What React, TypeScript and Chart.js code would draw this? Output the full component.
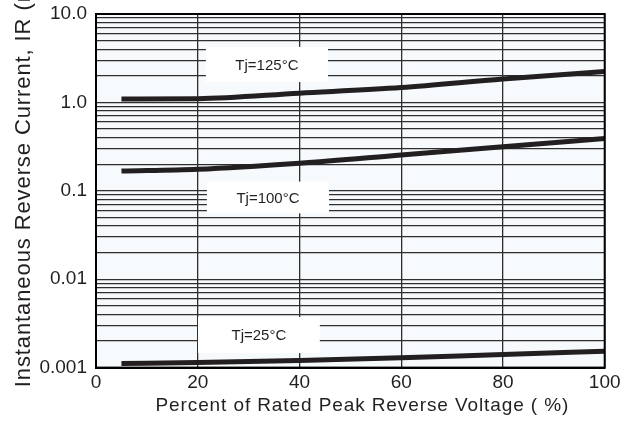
import React, { useEffect, useRef } from "react";
import { Chart, registerables } from "chart.js";

Chart.register(...registerables);

// ---- data ----
const xPercent = [5, 20, 40, 60, 80, 100];
const ir125 = [1.09, 1.1, 1.27, 1.47, 1.84, 2.23];
const ir100 = [0.167, 0.175, 0.205, 0.254, 0.315, 0.39];
const ir25 = [0.00111, 0.00114, 0.0012, 0.00129, 0.00141, 0.00153];

const xTickValues = [0, 20, 40, 60, 80, 100];
const yDecades = [0.001, 0.01, 0.1, 1, 10];
const yTickLabels = ["0.001", "0.01", "0.1", "1.0", "10.0"];
const seriesLabels = ["Tj=125°C", "Tj=100°C", "Tj=25°C"];

const xTitle = "Percent of Rated Peak Reverse Voltage ( %)";
const yTitle = "Instantaneous Reverse Current, IR (mA)";

// ---- label box placement (data units) ----
const labelBoxes = [
  { x0: 21.6, x1: 45.6, yTop: 4.24, yBottom: 1.7 },
  { x0: 21.8, x1: 45.8, yTop: 0.127, yBottom: 0.0556 },
  { x0: 20.05, x1: 44.0, yTop: 0.00373, yBottom: 0.00146 },
];

const FONT = "'Liberation Sans', Arial, Helvetica, sans-serif";
const INK = "#231f20";
const GRID = "#2e2e2e";

// minor log grid: 1..9 per decade
const yGridValues: number[] = [];
for (let d = 0; d < yDecades.length - 1; d++) {
  for (let m = 1; m <= 9; m++) {
    yGridValues.push(Number((m * yDecades[d]).toPrecision(3)));
  }
}
yGridValues.push(yDecades[yDecades.length - 1]);

function patchTitle(scale: any, spacing: string, dx: number, dy: number) {
  if (!scale || scale.__patched) return;
  const orig = scale.drawTitle;
  scale.drawTitle = function () {
    const ctx = this.ctx;
    ctx.save();
    ctx.letterSpacing = spacing;
    ctx.translate(dx, dy);
    orig.call(this);
    ctx.restore();
  };
  scale.__patched = true;
}

const decorPlugin = {
  id: "decor",
  beforeDraw(chart: any) {
    const { ctx, chartArea, width, height } = chart;
    ctx.save();
    ctx.fillStyle = "#ffffff";
    ctx.fillRect(0, 0, width, height);
    ctx.fillStyle = "#f7fafd";
    ctx.fillRect(
      chartArea.left,
      chartArea.top,
      chartArea.right - chartArea.left,
      chartArea.bottom - chartArea.top
    );
    ctx.restore();
    patchTitle(chart.scales.y, "0.9px", 0, -17.5);
    patchTitle(chart.scales.x, "0.9px", 12, 0);
  },
  beforeDatasetsDraw(chart: any) {
    const { ctx } = chart;
    const xs = chart.scales.x;
    const ys = chart.scales.y;
    ctx.save();
    labelBoxes.forEach((b, i) => {
      const l = xs.getPixelForValue(b.x0);
      const r = xs.getPixelForValue(b.x1);
      const t = ys.getPixelForValue(b.yTop);
      const bt = ys.getPixelForValue(b.yBottom);
      ctx.fillStyle = "#ffffff";
      ctx.fillRect(l, t, r - l, bt - t);
      ctx.fillStyle = INK;
      ctx.font = `15px ${FONT}`;
      ctx.textAlign = "center";
      ctx.textBaseline = "middle";
      ctx.fillText(seriesLabels[i], (l + r) / 2, (t + bt) / 2 + 1);
    });
    ctx.restore();
  },
  afterDraw(chart: any) {
    const { ctx, chartArea } = chart;
    ctx.save();
    ctx.strokeStyle = "#000";
    ctx.lineWidth = 2;
    ctx.strokeRect(
      chartArea.left,
      chartArea.top,
      chartArea.right - chartArea.left,
      chartArea.bottom - chartArea.top
    );
    ctx.restore();
  },
};

export default function App() {
  const canvasRef = useRef<HTMLCanvasElement | null>(null);

  useEffect(() => {
    if (!canvasRef.current) return;
    const mk = (vals: number[]) => xPercent.map((x, i) => ({ x, y: vals[i] }));
    const lineStyle = {
      borderColor: INK,
      backgroundColor: INK,
      borderWidth: 5,
      pointRadius: 0,
      tension: 0.4,
      cubicInterpolationMode: "monotone" as const,
      borderCapStyle: "butt" as const,
      fill: false,
    };
    const chart = new Chart(canvasRef.current, {
      type: "line",
      data: {
        datasets: [
          { label: seriesLabels[0], data: mk(ir125), ...lineStyle },
          { label: seriesLabels[1], data: mk(ir100), ...lineStyle },
          { label: seriesLabels[2], data: mk(ir25), ...lineStyle },
        ],
      },
      options: {
        animation: false,
        responsive: false,
        layout: { padding: { top: 14, right: 28.3, bottom: 0, left: 0 } },
        plugins: {
          legend: { display: false },
          tooltip: { enabled: false },
        },
        scales: {
          x: {
            type: "linear",
            min: 0,
            max: 100,
            afterBuildTicks: (scale: any) => {
              scale.ticks = xTickValues.map((v) => ({ value: v }));
            },
            afterFit: (scale: any) => {
              scale.height = 53.4;
              scale.paddingLeft = 0;
              scale.paddingRight = 0;
            },
            ticks: {
              autoSkip: false,
              padding: 4,
              color: INK,
              font: { family: FONT, size: 19 },
              maxRotation: 0,
            },
            grid: { color: GRID, lineWidth: 1.3, drawTicks: false },
            border: { display: true, color: "#000", width: 2 },
            title: {
              display: true,
              text: xTitle,
              color: INK,
              font: { family: FONT, size: 19 },
              padding: { top: 0, bottom: 3.6 },
            },
          },
          y: {
            type: "logarithmic",
            min: 0.001,
            max: 10,
            afterBuildTicks: (scale: any) => {
              scale.ticks = yGridValues.map((v) => ({ value: v }));
            },
            afterFit: (scale: any) => {
              scale.width = 96;
              scale.paddingTop = 0;
              scale.paddingBottom = 0;
            },
            ticks: {
              autoSkip: false,
              padding: 9,
              color: INK,
              font: { family: FONT, size: 19 },
              callback: (v: any) => {
                const i = yDecades.findIndex((d) => Math.abs(d - Number(v)) / d < 1e-6);
                return i >= 0 ? yTickLabels[i] : "";
              },
            },
            grid: { color: GRID, lineWidth: 1.3, drawTicks: false },
            border: { display: true, color: "#000", width: 2 },
            title: {
              display: true,
              text: yTitle,
              color: INK,
              font: { family: FONT, size: 22 },
              padding: { top: 11, bottom: 0 },
            },
          },
        },
      },
      plugins: [decorPlugin],
    });
    return () => chart.destroy();
  }, []);

  return (
    <div
      style={{
        position: "fixed",
        left: 0,
        top: 0,
        width: 633,
        height: 421,
        background: "#fff",
      }}
    >
      <canvas ref={canvasRef} width={633} height={421} style={{ display: "block" }} />
    </div>
  );
}
